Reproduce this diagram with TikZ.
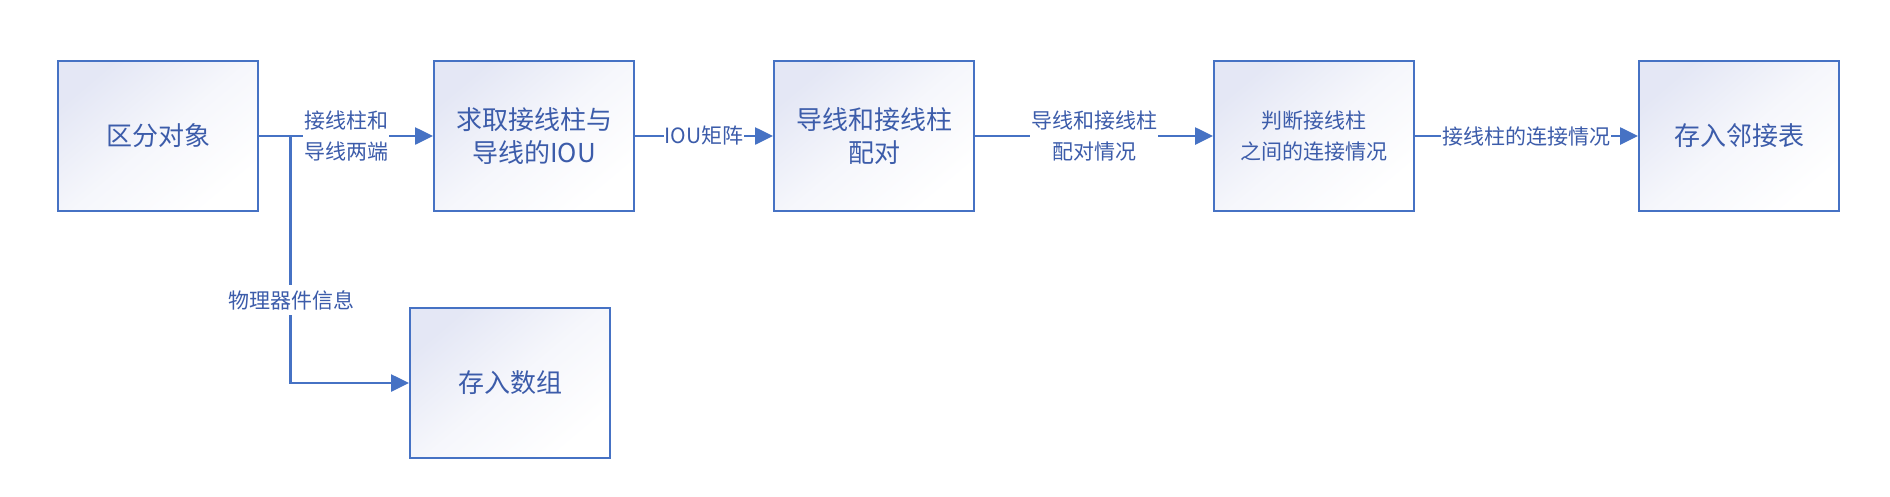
\documentclass[tikz,border=0pt]{standalone}
\usepackage{fontspec}
\newfontfamily\cjk{Noto Sans CJK SC}
\usetikzlibrary{arrows.meta}
\definecolor{lineblue}{RGB}{70,114,196}
\definecolor{textblue}{RGB}{60,92,170}
\definecolor{lav}{RGB}{228,231,245}
\tikzset{
  x=1pt, y=-1pt,
  box/.style={draw=lineblue, line width=2pt, minimum width=200pt, minimum height=150pt,
    top color=lav, bottom color=white, middle color=lav!35!white, shading angle=40, inner sep=0pt,
    text=textblue, align=center, font=\cjk\fontsize{26pt}{33pt}\selectfont},
  smallbox/.style={box, font=\cjk\fontsize{21pt}{31pt}\selectfont},
  lbl/.style={fill=white, text=textblue, inner sep=1pt, align=center,
    font=\cjk\fontsize{21pt}{31pt}\selectfont},
  conn/.style={draw=lineblue, line width=2.6pt},
  arr/.style={conn, -{Triangle[length=18pt,width=17pt]}},
}
\begin{document}
\begin{tikzpicture}
\useasboundingbox[fill=white] (0,0) rectangle (1890,496);
\node[box] (b1) at (158,136) {区分对象};
\node[box] (b2) at (534,136) {求取接线柱与\\导线的IOU};
\node[box] (b3) at (874,136) {导线和接线柱\\配对};
\node[smallbox] (b4) at (1314,136) {判断接线柱\\之间的连接情况};
\node[box] (b5) at (1739,136) {存入邻接表};
\node[box] (b6) at (510,383) {存入数组};
\coordinate (br) at (290.5,136);
\coordinate (bc) at (290.5,383);
% connectors
\draw[conn] (b1.east) -- (br);
\draw[arr] (br) -- (b2.west);
\draw[arr] (b2.east) -- (b3.west);
\draw[arr] (b3.east) -- (b4.west);
\draw[arr] (b4.east) -- (b5.west);
\draw[arr] (br) -- (bc) -- (b6.west);
% labels
\node[lbl] (l1) at (346,136) {接线柱和\\导线两端};
\node[lbl] (l2) at (704,136) {IOU矩阵};
\node[lbl] (l3) at (1094,136) {导线和接线柱\\配对情况};
\node[lbl] (l4) at (1526,136) {接线柱的连接情况};
\node[lbl, inner ysep=5pt] (l5) at (291,300) {物理器件信息};
\end{tikzpicture}
\end{document}
